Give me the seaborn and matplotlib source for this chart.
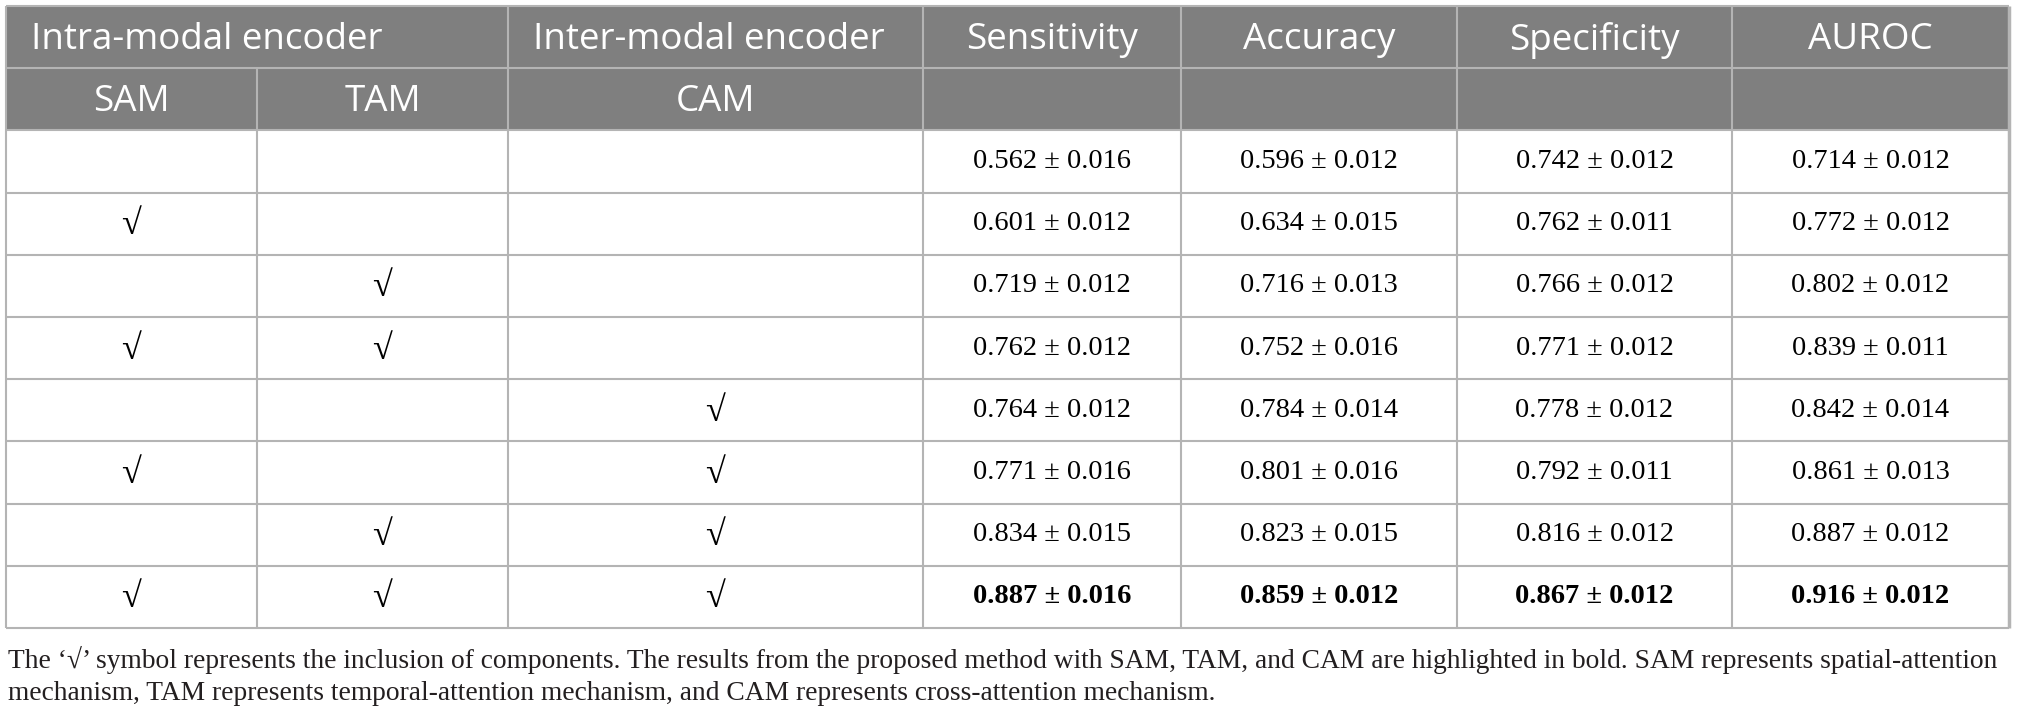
import matplotlib
matplotlib.use("Agg")
import matplotlib.pyplot as plt
import seaborn as sns
from matplotlib.patches import Rectangle

# ablation table data
group_names = ["Intra-modal encoder", "Inter-modal encoder"]
component_names = ["SAM", "TAM", "CAM"]
metric_names = ["Sensitivity", "Accuracy", "Specificity", "AUROC"]

sam = [0, 1, 0, 1, 0, 1, 0, 1]
tam = [0, 0, 1, 1, 0, 0, 1, 1]
cam = [0, 0, 0, 0, 1, 1, 1, 1]

sensitivity_mean = [0.562, 0.601, 0.719, 0.762, 0.764, 0.771, 0.834, 0.887]
sensitivity_std = [0.016, 0.012, 0.012, 0.012, 0.012, 0.016, 0.015, 0.016]
accuracy_mean = [0.596, 0.634, 0.716, 0.752, 0.784, 0.801, 0.823, 0.859]
accuracy_std = [0.012, 0.015, 0.013, 0.016, 0.014, 0.016, 0.015, 0.012]
specificity_mean = [0.742, 0.762, 0.766, 0.771, 0.778, 0.792, 0.816, 0.867]
specificity_std = [0.012, 0.011, 0.012, 0.012, 0.012, 0.011, 0.012, 0.012]
auroc_mean = [0.714, 0.772, 0.802, 0.839, 0.842, 0.861, 0.887, 0.916]
auroc_std = [0.012, 0.012, 0.012, 0.011, 0.014, 0.013, 0.012, 0.012]

bold_row = 7  # proposed method

footnote = [
    "The \u2018\u221a\u2019 symbol represents the inclusion of components. The results from the proposed method "
    "with SAM, TAM, and CAM are highlighted in bold. SAM represents spatial-attention",
    "mechanism, TAM represents temporal-attention mechanism, and CAM represents cross-attention mechanism.",
]

sns.set_theme(style="white")
plt.rcParams['font.family'] = ['Open Sans', 'DejaVu Sans']
serif = ['Liberation Serif', 'DejaVu Serif']

header_gray = "#7f7f7f"
grid_gray = "#b4b4b4"

W, H = 2017, 721
fig = plt.figure(figsize=(W / 100, H / 100), dpi=100)
ax = fig.add_axes([0, 0, 1, 1])
ax.set_xlim(0, W)
ax.set_ylim(H, 0)
ax.axis('off')

# layout (pixels)
col_edges = [6, 257, 508, 923, 1181, 1457, 1732, 2009]
top = 6
row_h = 62.2
n_rows = 2 + len(sam)
row_edges = [top + i * row_h for i in range(n_rows + 1)]
left, right = col_edges[0], col_edges[-1]

def col_mid(i):
    return (col_edges[i] + col_edges[i + 1]) / 2

def row_mid(i):
    return (row_edges[i] + row_edges[i + 1]) / 2

# header background
ax.add_patch(Rectangle((left, row_edges[0]), right - left, row_edges[2] - row_edges[0],
                       facecolor=header_gray, edgecolor='none'))

# grid lines
lw = 1.5
for y in row_edges:
    ax.plot([left, right], [y, y], color=grid_gray, lw=lw, solid_capstyle='butt')
for j, x in enumerate(col_edges):
    y0 = row_edges[1] if j == 1 else row_edges[0]
    ax.plot([x, x], [y0, row_edges[-1]], color=grid_gray,
            lw=2.5 if j == len(col_edges) - 1 else lw, solid_capstyle='butt')

# header text
hsize = 26.5
hy0 = row_mid(0) + 3
hy1 = row_mid(1) + 3
ax.text(col_edges[0] + 25, hy0, group_names[0], color='white', fontsize=hsize,
        ha='left', va='center')
ax.text(col_edges[2] + 25, hy0, group_names[1], color='white', fontsize=hsize,
        ha='left', va='center')
for k, name in enumerate(metric_names):
    ax.text(col_mid(3 + k), hy0, name, color='white', fontsize=hsize,
            ha='center', va='center')
for k, name in enumerate(component_names):
    ax.text(col_mid(k), hy1, name, color='white', fontsize=hsize,
            ha='center', va='center')

# body
flags = [sam, tam, cam]
means = [sensitivity_mean, accuracy_mean, specificity_mean, auroc_mean]
stds = [sensitivity_std, accuracy_std, specificity_std, auroc_std]
dsize = 20.5
for r in range(len(sam)):
    y = row_mid(2 + r)
    weight = 'bold' if r == bold_row else 'normal'
    for k, f in enumerate(flags):
        if f[r]:
            ax.text(col_mid(k), y + 2, "\u221a", fontsize=26, family=serif,
                    weight=weight, ha='center', va='center', color='black')
    for k in range(len(metric_names)):
        ax.text(col_mid(3 + k), y, f"{means[k][r]:.3f} \u00b1 {stds[k][r]:.3f}",
                fontsize=dsize, family=serif, weight=weight,
                ha='center', va='center', color='black')

# footnote
for i, line in enumerate(footnote):
    ax.text(8, 660 + i * 34, line, fontsize=19.8, family=serif, ha='left',
            va='center', color='#231f20')

fig.savefig("out.png", dpi=100)
